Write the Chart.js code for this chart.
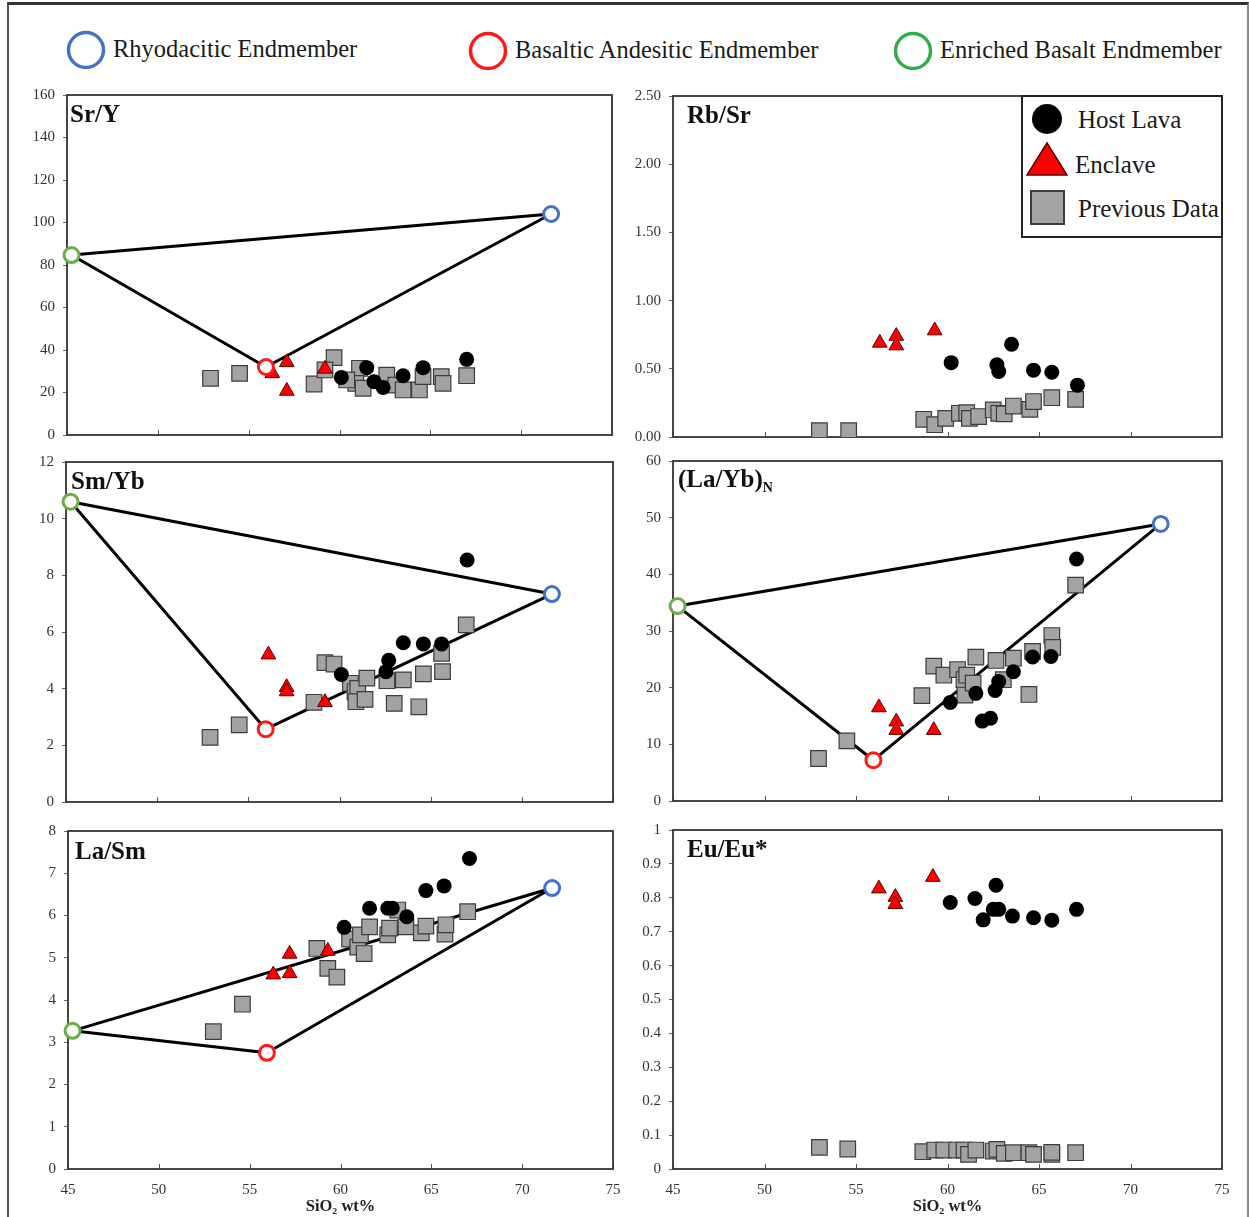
<!DOCTYPE html>
<html><head><meta charset="utf-8">
<script src="https://cdn.jsdelivr.net/npm/chart.js@4.4.0/dist/chart.umd.min.js"></script>
<style>
body{margin:0;background:#fff;width:1249px;height:1217px;overflow:hidden;position:relative;font-family:'Liberation Serif','Times New Roman',serif;}
#frame{position:absolute;left:7px;top:2px;width:1238px;height:1240px;border-top:3px solid #333;border-left:2px solid #555;border-right:2px solid #888;}
canvas{position:absolute}
.lbl{position:absolute;white-space:nowrap;line-height:1;color:#1a1a1a}
.leg{font-size:24.5px}
.leg2{font-size:25px}
.ptitle{font-weight:bold;font-size:25px;color:#111}
.ptitle sub{font-size:14px;vertical-align:-5px}
svg{position:absolute;overflow:visible}
#boxleg{position:absolute;left:1021px;top:95px;width:198px;height:139px;border:2px solid #222;background:#fff}
</style></head>
<body>
<div id="frame"></div>

<!-- top endmember legend -->
<svg style="left:0;top:0" width="1" height="1">
  <circle cx="86" cy="50" r="17.5" fill="#fff" stroke="#4472c4" stroke-width="3.5"/>
  <circle cx="488" cy="51" r="17.5" fill="#fff" stroke="#ff1a1a" stroke-width="3.5"/>
  <circle cx="913" cy="51" r="17.5" fill="#fff" stroke="#2fae45" stroke-width="3.5"/>
</svg>
<div class="lbl leg" style="left:113px;top:37px">Rhyodacitic Endmember</div>
<div class="lbl leg" style="left:515px;top:38px">Basaltic Andesitic Endmember</div>
<div class="lbl leg" style="left:940px;top:38px">Enriched Basalt Endmember</div>

<script>
// ---------------- DATA ----------------
const siO2Ticks = [45, 50, 55, 60, 65, 70, 75];
// endmember SiO2: [Rhyodacitic, Basaltic Andesitic, Enriched Basalt]
const endmemberSiO2 = [71.65, 55.95, 45.25];
const srY_end  = [104, 32, 84.7];
const smYb_end = [7.34, 2.57, 10.6];
const laYbN_end = [48.9, 7.2, 34.4];
const laSm_end = [6.65, 2.75, 3.27];

const srY_host = [[60.1,27.1],[61.5,31.7],[61.9,25.1],[62.4,22.4],[63.5,27.9],[64.6,31.7],[67.0,35.6]];
const srY_encl = [[56.3,29.0],[57.1,34.2],[57.1,20.7],[59.2,31.1]];
const srY_prev = [[52.9,26.7],[54.5,29.0],[58.6,24.0],[59.7,36.4],[59.2,30.6],[61.1,31.4],[60.9,24.3],[61.3,22.0],[60.4,25.9],[62.6,28.2],[63.1,23.5],[63.5,21.2],[64.4,21.2],[64.6,27.5],[65.6,27.5],[65.7,24.3],[67.0,27.9]];

const rbSr_host = [[60.2,0.545],[62.7,0.53],[62.8,0.48],[63.5,0.68],[64.7,0.49],[65.7,0.475],[67.1,0.38]];
const rbSr_encl = [[56.3,0.69],[57.2,0.74],[57.2,0.67],[59.3,0.78]];
const rbSr_prev = [[53.0,0.046],[54.6,0.046],[58.7,0.13],[59.3,0.09],[59.9,0.137],[60.65,0.174],[61.05,0.178],[61.2,0.137],[61.7,0.15],[62.5,0.198],[62.8,0.174],[63.1,0.17],[63.6,0.227],[64.5,0.203],[64.7,0.26],[65.7,0.288],[67.0,0.276]];

const smYb_host = [[60.1,4.5],[62.55,4.6],[62.7,5.0],[63.5,5.62],[64.6,5.58],[65.6,5.58],[67.0,8.54]];
const smYb_encl = [[56.1,5.2],[57.1,4.05],[57.1,3.9],[59.2,3.52]];
const smYb_prev = [[52.9,2.28],[54.5,2.72],[58.6,3.52],[59.2,4.92],[59.7,4.87],[60.6,4.19],[60.85,3.89],[61.0,4.01],[60.9,3.54],[61.4,3.62],[61.5,4.37],[62.6,4.28],[63.5,4.31],[63.0,3.48],[64.35,3.36],[64.6,4.52],[65.65,4.6],[65.6,5.25],[66.95,6.25]];

const laYbN_host = [[60.15,17.4],[61.55,19.0],[61.9,14.1],[62.35,14.6],[62.6,19.5],[62.8,21.1],[63.6,22.8],[64.65,25.4],[65.65,25.5],[67.05,42.7]];
const laYbN_encl = [[56.25,16.5],[57.2,14.0],[57.2,12.5],[59.25,12.5]];
const laYbN_prev = [[52.95,7.5],[54.5,10.6],[58.6,18.6],[59.25,23.8],[59.8,22.2],[60.55,23.2],[60.9,21.4],[61.05,22.2],[60.95,18.7],[61.4,20.8],[61.55,25.4],[62.65,24.8],[63.05,21.4],[63.6,25.2],[64.65,26.4],[64.45,18.8],[65.7,29.2],[65.75,27.1],[67.0,38.1]];

const laSm_host = [[60.2,5.72],[61.6,6.17],[62.6,6.17],[62.85,6.17],[63.65,5.97],[64.7,6.59],[65.7,6.7],[67.1,7.35]];
const laSm_encl = [[56.3,4.6],[57.2,5.09],[57.2,4.63],[59.3,5.16]];
const laSm_prev = [[53.0,3.25],[54.6,3.9],[58.7,5.22],[59.3,4.75],[59.8,4.54],[60.5,5.44],[60.95,5.25],[61.3,5.1],[61.1,5.54],[61.6,5.73],[62.6,5.54],[62.7,5.7],[63.15,6.13],[63.6,5.73],[64.45,5.59],[64.7,5.75],[65.75,5.56],[65.8,5.78],[67.0,6.09]];

const euEu_host = [[60.15,0.786],[61.5,0.798],[61.95,0.735],[62.65,0.837],[62.5,0.766],[62.8,0.766],[63.55,0.746],[64.7,0.741],[65.7,0.734],[67.05,0.766]];
const euEu_encl = [[56.25,0.827],[57.15,0.802],[57.15,0.781],[59.2,0.861]];
const euEu_prev = [[53.0,0.064],[54.55,0.059],[58.65,0.051],[59.3,0.056],[59.8,0.056],[60.5,0.056],[60.9,0.056],[61.15,0.043],[61.55,0.056],[62.5,0.053],[62.7,0.058],[63.1,0.046],[63.6,0.048],[64.45,0.048],[64.7,0.043],[65.7,0.043],[65.7,0.049],[67.0,0.048]];

const panelTitles = ['Sr/Y', 'Rb/Sr', 'Sm/Yb', '(La/Yb)<sub>N</sub>', 'La/Sm', 'Eu/Eu*'];
const legendLabels = ['Host Lava', 'Enclave', 'Previous Data'];
const xAxisTitle = 'SiO\u2082 wt%';

// ---------------- DRAWING ----------------
const endColors = ['#4472c4', '#ff1a1a', '#6aae4a'];
const FONT = "'Liberation Serif','Times New Roman',serif";
const pts = a => a.map(p => ({x: p[0], y: p[1]}));

const boxPlugin = {
  id: 'boxPlugin',
  beforeDatasetsDraw(chart) {
    const {ctx, chartArea: a, scales} = chart;
    ctx.save();
    ctx.strokeStyle = '#555'; ctx.lineWidth = 1;
    siO2Ticks.forEach(v => {
      const px = Math.round(scales.x.getPixelForValue(v)) + 0.5;
      ctx.beginPath(); ctx.moveTo(px, a.bottom); ctx.lineTo(px, a.bottom - 5); ctx.stroke();
    });
    ctx.strokeStyle = '#333'; ctx.lineWidth = 1.8;
    ctx.strokeRect(a.left, a.top, a.right - a.left, a.bottom - a.top);
    ctx.restore();
  }
};

function makePanel(cell, box, yCfg, series, ends, showX) {
  const c = document.createElement('canvas');
  c.width = cell.w; c.height = cell.h;
  c.style.left = cell.x + 'px'; c.style.top = cell.y + 'px';
  document.body.appendChild(c);
  const ds = [];
  if (ends) {
    // path: enriched -> basaltic andesitic -> rhyodacitic -> enriched
    const path = [2, 1, 0, 2].map(i => ({x: endmemberSiO2[i], y: ends[i]}));
    ds.push({data: path, showLine: true, borderColor: '#000', borderWidth: 3, borderJoinStyle: 'round', borderCapStyle: 'round', pointRadius: 0, fill: false, order: 6, clip: false});
  }
  ds.push({data: pts(series[2]), pointStyle: 'rect', pointRadius: 11, backgroundColor: '#a3a3a3', borderColor: '#3c3c3c', borderWidth: 1.2, order: 5});
  ds.push({data: pts(series[1]), pointStyle: 'triangle', pointRadius: 8.5, backgroundColor: '#ff0000', borderColor: '#5a0000', borderWidth: 1, order: 4});
  ds.push({data: pts(series[0]), pointStyle: 'circle', pointRadius: 7.5, backgroundColor: '#000', borderColor: '#000', borderWidth: 0, order: 3});
  if (ends) {
    [0, 1, 2].forEach(i => ds.push({data: [{x: endmemberSiO2[i], y: ends[i]}], pointStyle: 'circle', pointRadius: 7.5, backgroundColor: '#fff', borderColor: endColors[i], borderWidth: 3, order: 1, clip: false}));
  }
  new Chart(c, {
    type: 'scatter',
    data: {datasets: ds},
    plugins: [boxPlugin],
    options: {
      responsive: false, animation: false, events: [],
      layout: {autoPadding: false, padding: {left: 0, top: box.t - cell.y, right: cell.x + cell.w - box.r, bottom: 0}},
      plugins: {legend: {display: false}, tooltip: {enabled: false}},
      scales: {
        x: {
          type: 'linear', min: 45, max: 75,
          afterBuildTicks: s => { s.ticks = siO2Ticks.map(v => ({value: v})); },
          afterFit: s => { s.height = cell.y + cell.h - box.b; },
          grid: {display: false, drawTicks: false},
          border: {display: false},
          ticks: {display: showX, padding: 12, color: '#333', font: {family: FONT, size: 15}, maxRotation: 0, autoSkip: false},
          title: {display: showX, text: xAxisTitle, color: '#222', font: {family: FONT, size: 16.5, weight: 'bold'}, padding: {top: 0, bottom: 0}}
        },
        y: {
          type: 'linear', min: yCfg.min, max: yCfg.max,
          afterFit: s => { s.width = box.l - cell.x; },
          grid: {display: true, drawOnChartArea: false, drawTicks: true, tickLength: 4, color: '#666'},
          border: {display: false},
          ticks: {stepSize: yCfg.step, padding: 8, color: '#333', font: {family: FONT, size: 15}, callback: yCfg.fmt}
        }
      }
    }
  });
}

const L = {x: 10, w: 625}, R = {x: 620, w: 629};
const rows = [{y: 75, h: 382}, {y: 441, h: 381}, {y: 810, h: 407}];

makePanel({x: L.x, w: L.w, y: rows[0].y, h: rows[0].h}, {l: 67, r: 612, t: 95, b: 435},
  {min: 0, max: 160, step: 20, fmt: v => v}, [srY_host, srY_encl, srY_prev], srY_end, false);
makePanel({x: R.x, w: R.w, y: rows[0].y, h: rows[0].h}, {l: 673, r: 1222, t: 96, b: 437},
  {min: 0, max: 2.5, step: 0.5, fmt: v => v.toFixed(2)}, [rbSr_host, rbSr_encl, rbSr_prev], null, false);
makePanel({x: L.x, w: L.w, y: rows[1].y, h: rows[1].h}, {l: 66, r: 613, t: 462, b: 802},
  {min: 0, max: 12, step: 2, fmt: v => v}, [smYb_host, smYb_encl, smYb_prev], smYb_end, false);
makePanel({x: R.x, w: R.w, y: rows[1].y, h: rows[1].h}, {l: 673, r: 1222, t: 461, b: 801},
  {min: 0, max: 60, step: 10, fmt: v => v}, [laYbN_host, laYbN_encl, laYbN_prev], laYbN_end, false);
makePanel({x: L.x, w: L.w, y: rows[2].y, h: rows[2].h}, {l: 68, r: 613, t: 831, b: 1169},
  {min: 0, max: 8, step: 1, fmt: v => v}, [laSm_host, laSm_encl, laSm_prev], laSm_end, true);
makePanel({x: R.x, w: R.w, y: rows[2].y, h: rows[2].h}, {l: 673, r: 1222, t: 830, b: 1169},
  {min: 0, max: 1, step: 0.1, fmt: v => String(Math.round(v * 10) / 10)}, [euEu_host, euEu_encl, euEu_prev], null, true);

// panel titles
const titlePos = [[70, 101], [687, 102], [71, 468], [678, 466], [75, 838], [687, 836]];
panelTitles.forEach((t, i) => {
  const d = document.createElement('div');
  d.className = 'lbl ptitle';
  d.style.left = titlePos[i][0] + 'px'; d.style.top = titlePos[i][1] + 'px';
  d.innerHTML = t;
  document.body.appendChild(d);
});

// legend box in Rb/Sr panel
const lb = document.createElement('div');
lb.id = 'boxleg';
document.body.appendChild(lb);
const ls = document.createElementNS('http://www.w3.org/2000/svg', 'svg');
ls.setAttribute('width', '1'); ls.setAttribute('height', '1');
ls.style.left = '0px'; ls.style.top = '0px';
ls.innerHTML = '<circle cx="1047" cy="119" r="15" fill="#000"/>' +
  '<polygon points="1047,143 1067,175 1027,175" fill="#ff0000" stroke="#5a0000" stroke-width="1.5"/>' +
  '<rect x="1031" y="191" width="33" height="33" fill="#a3a3a3" stroke="#3c3c3c" stroke-width="2"/>';
document.body.appendChild(ls);
const legPos = [[1078, 107], [1075, 152], [1078, 196]];
legendLabels.forEach((t, i) => {
  const d = document.createElement('div');
  d.className = 'lbl leg2';
  d.style.left = legPos[i][0] + 'px'; d.style.top = legPos[i][1] + 'px';
  d.textContent = t;
  document.body.appendChild(d);
});
</script>
</body></html>
